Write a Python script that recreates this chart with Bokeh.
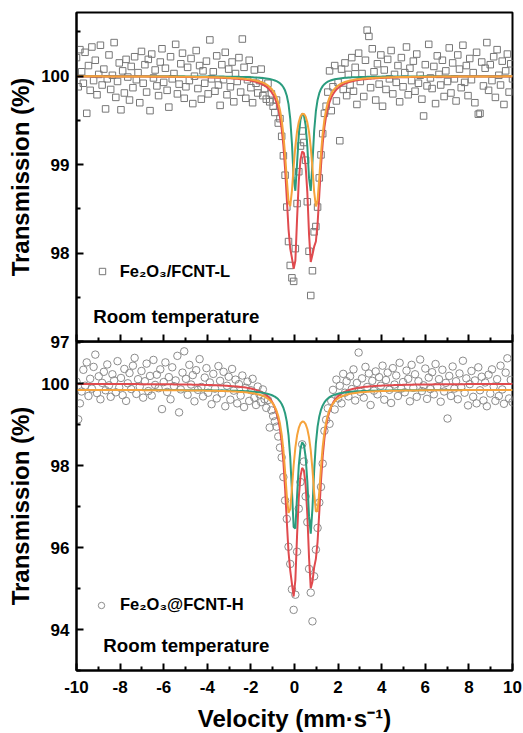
import numpy as np
from bokeh.plotting import figure
from bokeh.layouts import column
from bokeh.models import Range1d, FixedTicker, Label, Legend, LegendItem
from bokeh.embed import file_html
from bokeh.resources import INLINE

# ---------------- data ----------------
v_start, v_stop, n_channels = -10.0, 10.0, 256
velocity = np.linspace(v_start, v_stop, n_channels)

top_counts = [
    100.21, 99.88, 100.30, 100.05, 99.92, 100.27, 99.58, 100.12, 99.84, 100.33, 99.95, 100.18, 99.79, 100.02, 100.35, 99.90,
    100.08, 99.63, 99.97, 100.24, 99.85, 100.01, 100.38, 99.76, 99.94, 100.15, 99.62, 100.06, 99.81, 100.19, 99.99, 99.73,
    100.11, 99.87, 100.22, 99.96, 100.04, 99.70, 100.28, 99.92, 100.13, 99.82, 100.19, 99.61, 100.25, 99.98, 100.07, 99.89,
    99.78, 100.16, 100.31, 99.93, 100.09, 99.84, 99.65, 100.22, 99.97, 100.03, 100.36, 99.80, 99.91, 100.14, 100.26, 99.75,
    99.88, 100.10, 99.95, 100.20, 99.69, 100.00, 100.29, 99.86, 100.12, 99.74, 100.06, 99.92, 100.17, 99.80, 100.41, 99.97,
    100.05, 99.83, 100.23, 99.90, 99.67, 100.13, 99.96, 100.27, 99.79, 100.08, 99.88, 100.16, 99.71, 100.03, 99.94, 100.21,
    99.82, 100.42, 100.10, 99.75, 99.96, 100.18, 99.87, 99.70, 100.07, 99.92, 99.81, 99.95, 100.08, 99.78, 99.86, 99.74,
    99.92, 99.71, 99.80, 99.66, 99.59, 99.73, 99.47, 99.52, 99.32, 99.10, 98.88, 98.52, 98.13, 97.86, 97.72, 97.68,
    98.05, 98.56, 98.92, 99.21, 99.38, 99.25, 99.05, 98.58, 98.02, 97.52, 97.80, 98.24, 98.30, 98.52, 98.85, 99.11,
    99.35, 99.58, 99.66, 99.82, 100.06, 99.61, 99.88, 100.12, 99.72, 99.93, 99.27, 100.08, 99.85, 100.15, 99.78, 100.02,
    99.90, 100.21, 99.83, 100.10, 99.68, 100.26, 99.94, 100.03, 99.77, 100.18, 100.52, 100.45, 99.87, 100.31, 100.05, 99.73,
    100.14, 99.91, 100.24, 99.66, 100.07, 99.85, 100.19, 99.97, 100.29, 99.80, 100.02, 99.93, 100.12, 99.71, 100.21, 99.88,
    100.04, 100.33, 99.79, 100.09, 99.95, 100.17, 99.83, 100.25, 99.92, 100.01, 99.74, 99.55, 100.13, 99.89, 100.36, 99.98,
    99.86, 100.11, 99.69, 100.23, 100.02, 99.90, 100.18, 99.77, 100.06, 99.94, 100.32, 99.81, 100.15, 99.97, 99.72, 100.24,
    100.08, 99.87, 100.35, 99.93, 100.12, 99.78, 100.20, 99.96, 100.04, 99.70, 100.27, 99.57, 99.58, 100.16, 99.89, 100.09,
    100.38, 99.84, 100.13, 99.95, 100.22, 99.76, 100.30, 100.01, 99.90, 100.17, 99.68, 100.06, 100.25, 99.82, 100.14, 99.97,
]

bottom_counts = [
    100.05, 99.13, 99.52, 99.81, 100.34, 99.95, 100.52, 99.70, 100.12, 99.88, 100.41, 100.71, 99.77, 100.18, 99.62, 100.02,
    100.29, 99.84, 100.47, 99.96, 99.68, 100.23, 100.08, 99.79, 100.55, 99.91, 100.14, 99.72, 100.36, 99.58, 100.01, 100.26,
    99.87, 100.44, 100.63, 99.75, 100.11, 99.93, 100.31, 99.66, 100.06, 100.49, 99.82, 100.19, 99.71, 100.58, 99.97, 100.22,
    99.89, 100.35, 99.38, 100.04, 100.52, 99.80, 100.16, 99.62, 100.40, 99.94, 100.08, 100.68, 99.30, 99.86, 100.27, 100.79,
    100.12, 99.73, 100.46, 99.98, 100.21, 99.57, 100.33, 99.85, 100.60, 99.92, 99.69, 100.15, 100.38, 99.78, 100.03, 99.50,
    100.24, 99.88, 99.64, 100.43, 100.07, 99.76, 100.29, 99.45, 99.95, 100.17, 99.61, 100.36, 99.83, 100.10, 99.52, 99.99,
    99.71, 100.20, 99.43, 99.90, 100.05, 99.58, 99.84, 100.12, 99.66, 99.48, 99.93, 99.74, 99.55, 99.86, 99.62, 99.41,
    99.60, 98.93, 99.35, 99.21, 99.08, 98.95, 98.71, 98.44, 98.20, 97.72, 97.15, 96.70, 96.02, 95.60, 94.98, 94.48,
    94.85, 95.90, 96.95, 97.60, 98.52, 98.10, 97.25, 96.62, 95.48, 94.90, 94.20, 95.30, 95.95, 96.48, 97.10, 97.48,
    98.05, 98.85, 99.12, 99.40, 99.02, 99.58, 99.85, 99.37, 100.10, 99.64, 99.95, 99.52, 100.24, 99.78, 100.06, 99.69,
    100.18, 99.87, 100.35, 99.59, 100.02, 100.76, 99.80, 100.13, 99.66, 100.41, 99.92, 100.25, 99.48, 100.07, 99.83, 100.30,
    99.74, 100.16, 99.95, 100.44, 99.61, 100.09, 100.27, 99.85, 99.53, 100.38, 99.98, 100.20, 99.70, 100.51, 99.88, 100.04,
    99.79, 100.32, 100.12, 99.57, 100.46, 99.90, 100.23, 99.68, 100.06, 100.59, 99.82, 99.96, 100.37, 99.63, 100.15, 99.87,
    100.28, 99.74, 100.48, 99.93, 100.11, 99.56, 100.34, 99.81, 100.02, 99.15, 100.19, 99.70, 100.42, 99.88, 100.06, 99.62,
    100.25, 99.91, 100.56, 99.78, 100.13, 99.47, 99.99, 100.31, 99.68, 100.08, 99.52, 100.40, 99.84, 100.17, 99.59, 100.03,
    99.45, 100.22, 99.76, 100.35, 99.93, 99.58, 100.11, 99.70, 100.44, 99.86, 99.51, 100.27, 100.62, 99.64, 100.09, 99.55,
]

# Lorentzian doublet fit parameters
top_green_centers = [0.02, 0.73]
top_green_hwhm = 0.16
top_green_depth = 1.25
top_orange_centers = [-0.22, 1.00]
top_orange_hwhm = 0.255
top_orange_depth = 1.42
top_baseline = 100.0
top_component_baseline = 100.0

bot_green_centers = [0.00, 0.74]
bot_green_hwhm = 0.18
bot_green_depth = 3.33
bot_orange_centers = [-0.25, 1.02]
bot_orange_hwhm = 0.247
bot_orange_depth = 2.93
bot_baseline = 100.0
bot_component_baseline = 99.85

x_major_ticks = [-10, -8, -6, -4, -2, 0, 2, 4, 6, 8, 10]
x_tick_labels = ["-10", "-8", "-6", "-4", "-2", "0", "2", "4", "6", "8", "10"]
x_minor_ticks = [-9, -7, -5, -3, -1, 1, 3, 5, 7, 9]
top_y_major = [97, 98, 99, 100]
top_y_minor = [97.5, 98.5, 99.5, 100.5]
bot_y_major = [94, 96, 98, 100]
bot_y_minor = [93, 95, 97, 99, 101]

top_label = "Fe\u2082O\u2083/FCNT-L"
bot_label = "Fe\u2082O\u2083@FCNT-H"
temp_label = "Room temperature"
y_title = "Transmission (%)"
x_title = "Velocity (mm\u00b7s\u207b\u00b9)"


def doublet(x, centers, hwhm, depth):
    x = np.asarray(x)
    return sum(depth / (1.0 + ((x - c) / hwhm) ** 2) for c in centers)


FONT = "Liberation Sans"
GREEN = "#2a9c7e"
ORANGE = "#f6a33b"
RED = "#e04a4e"
OVERLAP = 10

x_range = Range1d(-10, 10)


def style(p, ymaj, ymin):
    p.outline_line_color = "black"
    p.outline_line_width = 2
    p.outline_line_alpha = 1
    p.xgrid.visible = False
    p.ygrid.visible = False
    for ax in (p.xaxis[0], p.yaxis[0]):
        ax.axis_line_width = 2
        ax.axis_line_color = "black"
        ax.major_tick_in = 7
        ax.major_tick_out = 0
        ax.minor_tick_in = 4
        ax.minor_tick_out = 0
        ax.major_tick_line_width = 2
        ax.minor_tick_line_width = 2
        ax.major_label_text_font = FONT
        ax.major_label_text_font_style = "bold"
        ax.major_label_text_font_size = "17px"
        ax.major_label_text_color = "black"
        ax.axis_label_text_font = FONT
        ax.axis_label_text_font_style = "bold"
        ax.axis_label_text_font_size = "24px"
        ax.axis_label_text_color = "black"
    p.xaxis[0].ticker = FixedTicker(ticks=x_major_ticks, minor_ticks=x_minor_ticks)
    p.yaxis[0].ticker = FixedTicker(ticks=ymaj, minor_ticks=ymin)
    p.yaxis[0].major_label_standoff = 7
    p.yaxis[0].axis_label = y_title
    p.yaxis[0].axis_label_standoff = 4


def legend(label, renderer, loc, standoff):
    return Legend(items=[LegendItem(label=label, renderers=[renderer])], location=loc,
                  padding=0, spacing=0, margin=0, glyph_width=16, glyph_height=16,
                  label_height=16, label_standoff=standoff, label_text_font=FONT,
                  label_text_font_style="bold", label_text_font_size="16.5px",
                  label_text_color="black", background_fill_alpha=0, border_line_alpha=0)


# ---------------- top panel ----------------
p1 = figure(frame_width=436, frame_height=329, x_range=x_range, y_range=Range1d(97, 100.72),
            output_backend="svg", toolbar_location=None,
            min_border_left=76, min_border_right=11, min_border_top=12, min_border_bottom=OVERLAP)
style(p1, top_y_major, top_y_minor)
p1.xaxis[0].major_label_text_color = None
p1.xaxis[0].major_label_standoff = 0
p1.xaxis[0].axis_label = None
p1.background_fill_color = "white"
p1.border_fill_color = "white"

r1 = p1.scatter(velocity, top_counts, marker="square", size=6.5, fill_color=None,
                line_color="#777777", line_width=1)
g1 = top_component_baseline - doublet(velocity, top_green_centers, top_green_hwhm, top_green_depth)
o1 = top_component_baseline - doublet(velocity, top_orange_centers, top_orange_hwhm, top_orange_depth)
t1 = top_baseline - doublet(velocity, top_green_centers, top_green_hwhm, top_green_depth) \
    - doublet(velocity, top_orange_centers, top_orange_hwhm, top_orange_depth)
p1.line(velocity, g1, line_color=GREEN, line_width=2)
p1.line(velocity, t1, line_color=RED, line_width=2)
p1.line(velocity, o1, line_color=ORANGE, line_width=2)

p1.add_layout(legend(top_label, r1, (17.7, 60.3), 10))
p1.add_layout(Label(x=-9.23, y=97.28, text=temp_label, text_font=FONT, text_font_style="bold",
                    text_font_size="18.7px", text_color="black", text_baseline="alphabetic"))

# ---------------- bottom panel ----------------
p2 = figure(frame_width=436, frame_height=329, x_range=x_range, y_range=Range1d(93, 101.03),
            output_backend="svg", toolbar_location=None,
            min_border_left=76, min_border_right=11, min_border_top=0, min_border_bottom=0,
            styles={"margin-top": f"-{OVERLAP}px"})
style(p2, bot_y_major, bot_y_minor)
p2.background_fill_alpha = 0
p2.border_fill_alpha = 0
p2.xaxis[0].major_label_standoff = 10
p2.xaxis[0].major_label_overrides = dict(zip(x_major_ticks, x_tick_labels))
p2.xaxis[0].axis_label = x_title
p2.xaxis[0].axis_label_standoff = 9

r2 = p2.scatter(velocity, bottom_counts, marker="circle", size=7.5, fill_color=None,
                line_color="#8c8c8c", line_width=1)
g2 = bot_component_baseline - doublet(velocity, bot_green_centers, bot_green_hwhm, bot_green_depth)
o2 = bot_component_baseline - doublet(velocity, bot_orange_centers, bot_orange_hwhm, bot_orange_depth)
t2 = bot_baseline - doublet(velocity, bot_green_centers, bot_green_hwhm, bot_green_depth) \
    - doublet(velocity, bot_orange_centers, bot_orange_hwhm, bot_orange_depth)
p2.line(velocity, t2, line_color=RED, line_width=2)
p2.line(velocity, g2, line_color=GREEN, line_width=2)
p2.line(velocity, o2, line_color=ORANGE, line_width=2)

p2.add_layout(legend(bot_label, r2, (17, 56), 11))
p2.add_layout(Label(x=-8.77, y=93.62, text=temp_label, text_font=FONT, text_font_style="bold",
                    text_font_size="18.7px", text_color="black", text_baseline="alphabetic"))

layout = column(p1, p2, spacing=0)
open("out.html", "w").write(file_html(layout, INLINE))
